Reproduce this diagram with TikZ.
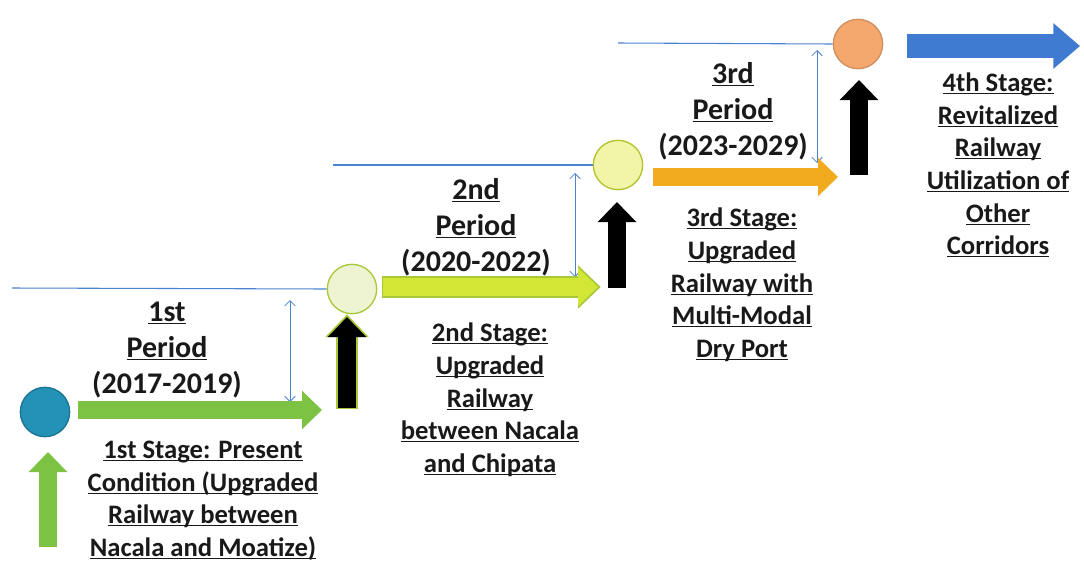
\documentclass[tikz,border=0pt]{standalone}
\usepackage{fontspec}
\setmainfont{Carlito}
\usetikzlibrary{arrows.meta}

\definecolor{tealdot}{HTML}{2392B6}
\definecolor{leafgreen}{HTML}{7CC243}
\definecolor{limeyel}{HTML}{D2E636}
\definecolor{limerim}{HTML}{A8C83A}
\definecolor{amber}{HTML}{F2AA1E}
\definecolor{skyblue}{HTML}{3F7BD0}
\definecolor{gapline}{HTML}{4C82D2}
\definecolor{paledot}{HTML}{EEF3D2}
\definecolor{yeldot}{HTML}{F2F5A8}
\definecolor{peach}{HTML}{F5A86E}

\newcommand{\uln}[1]{\underline{\raisebox{0pt}[\height][0pt]{#1}}}

\tikzset{
  stage/.style={circle, minimum size=37pt, inner sep=0pt, line width=1pt},
  fat/.style={line width=14pt, -{Triangle[length=15pt,width=28pt]}},
  rim/.style={line width=16.5pt, -{Triangle[length=17pt,width=31.5pt]}},
  fatblue/.style={line width=18pt, -{Triangle[length=20pt,width=33pt]}},
  gap/.style={draw=gapline, line width=0.6pt, {Straight Barb[length=4pt,width=8pt]}-{Straight Barb[length=4pt,width=8pt]}},
  level/.style={draw=gapline, line width=0.8pt},
  period/.style={align=center, font=\bfseries\fontsize{22.5}{27}\selectfont, text=black!90},
  stagetxt/.style={align=center, font=\bfseries\fontsize{20}{24.5}\selectfont, text=black!90}
}

\begin{document}
\begin{tikzpicture}[x=0.75pt, y=-0.75pt]
    \useasboundingbox (0,0) rectangle (1084,561);

    % stage dots
    \node[stage, fill=tealdot, draw=tealdot!80!black] (s1) at (45,412) {};
    \node[stage, fill=paledot, draw=limerim] (s2) at (352,289) {};
    \node[stage, fill=yeldot, draw=limeyel!85!black] (s3) at (618,165) {};
    \node[stage, fill=peach, draw=peach!85!black] (s4) at (858,44) {};

    % levels
    \coordinate (l1) at (12,288);
    \coordinate (l2) at (333,165);
    \coordinate (l3) at (618,43);
    \draw[level] (l1) -- (s2.west);
    \draw[level] (l2) -- (s3.west);
    \draw[level] (l3) -- (s4.west);

    % gaps between levels
    \coordinate (g1a) at (290,300);  \coordinate (g1b) at (290,402);
    \coordinate (g2a) at (575,173);  \coordinate (g2b) at (575,277);
    \coordinate (g3a) at (817,50);   \coordinate (g3b) at (817,163);
    \draw[gap] (g1a) -- (g1b);
    \draw[gap] (g2a) -- (g2b);
    \draw[gap] (g3a) -- (g3b);

    % fat arrows
    \coordinate (u1) at (48,547);   \coordinate (u1t) at (48,452);
    \coordinate (h1) at (78,410);   \coordinate (h1t) at (322,410);
    \coordinate (u2) at (347,408);  \coordinate (u2t) at (347,317);
    \coordinate (h2) at (383,287);  \coordinate (h2t) at (598,287);
    \coordinate (u3) at (617,288);  \coordinate (u3t) at (617,202);
    \coordinate (h3) at (653,177);  \coordinate (h3t) at (838,177);
    \coordinate (u4) at (859,175);  \coordinate (u4t) at (859,80);
    \coordinate (h4) at (907,46);   \coordinate (h4t) at (1080,46);

    \draw[fat, leafgreen] (u1) -- (u1t);
    \draw[fat, leafgreen] (h1) -- (h1t);
    \draw[rim, limerim] ([yshift=-1pt]u2) -- ([yshift=2pt]u2t);
    \draw[fat, black] (u2) -- (u2t);
    \draw[rim, limerim] ([xshift=-1pt]h2) -- ([xshift=2pt]h2t);
    \draw[fat, limeyel] (h2) -- (h2t);
    \draw[fat, black] (u3) -- (u3t);
    \draw[fat, amber] (h3) -- (h3t);
    \draw[fat, black] (u4) -- (u4t);
    \draw[fatblue, skyblue] (h4) -- (h4t);

    % texts
    \node[period] (p1) at (167,350) {\uln{1st}\\\uln{Period}\\(2017-2019)};
    \node[period] (p2) at (476,227) {\uln{2nd}\\\uln{Period}\\(2020-2022)};
    \node[period] (p3) at (733,111) {\uln{3rd}\\\uln{Period}\\(2023-2029)};

    \node[stagetxt] (t1) at (203,500) {\uln{1st Stage: Present}\\\uln{Condition (Upgraded}\\\uln{Railway between}\\\uln{Nacala and Moatize)}};
    \node[stagetxt] (t2) at (490,399) {\uln{2nd Stage:}\\\uln{Upgraded}\\\uln{Railway}\\\uln{between Nacala}\\\uln{and Chipata}};
    \node[stagetxt] (t3) at (742,284) {\uln{3rd Stage:}\\\uln{Upgraded}\\\uln{Railway with}\\\uln{Multi-Modal}\\\uln{Dry Port}};
    \node[stagetxt] (t4) at (998,165) {\uln{4th Stage:}\\\uln{Revitalized}\\\uln{Railway}\\\uln{Utilization of}\\\uln{Other}\\\uln{Corridors}};
\end{tikzpicture}
\end{document}
